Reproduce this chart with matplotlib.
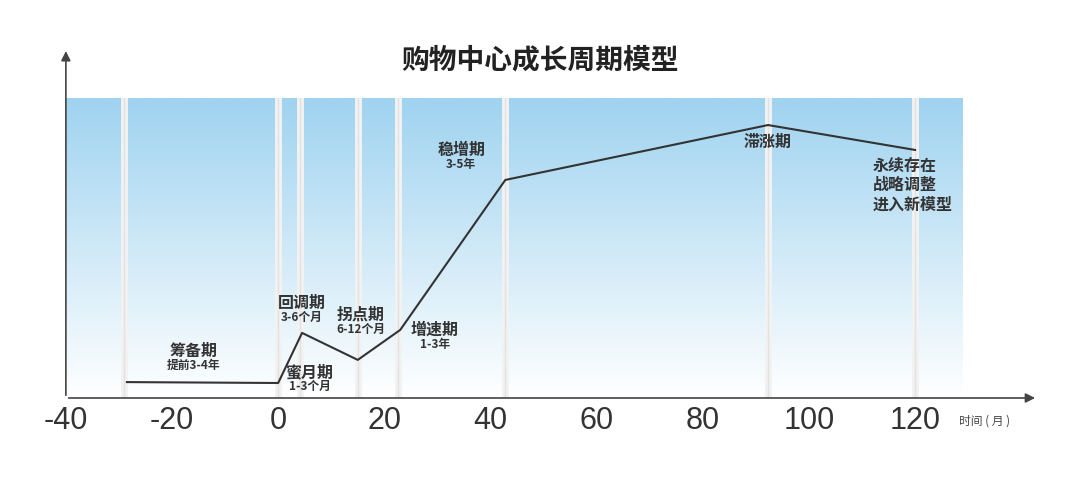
import numpy as np
import matplotlib.pyplot as plt
from matplotlib.colors import LinearSegmentedColormap

plt.rcParams['font.family'] = ['Noto Sans CJK SC', 'DejaVu Sans']
plt.rcParams['axes.unicode_minus'] = False

# data
months = [-28.5, 0, 4.5, 15, 23, 42.8, 92.3, 120]
level = [5.3, 5, 21.7, 12.7, 22.7, 72.7, 91, 82.7]
divider_x = [-29, 0, 4.1, 15, 22.6, 42.8, 92.3, 120]
xticks = [-40, -20, 0, 20, 40, 60, 80, 100, 120]
labels = [
    (-16, 13, "筹备期", "提前3-4年"),
    (4.5, 29, "回调期", "3-6个月"),
    (15.5, 25, "拐点期", "6-12个月"),
    (29.5, 20, "增速期", "1-3年"),
    (6, 6, "蜜月期", "1-3个月"),
    (34.5, 80, "稳增期", "3-5年"),
]

fig = plt.figure(figsize=(10.8, 4.83), dpi=100)
ax = fig.add_axes([0.061, 0.176, 0.83, 0.621])
xmin, xmax = -40, 128.9
ax.set_xlim(xmin, xmax)
ax.set_ylim(0, 100)

cmap = LinearSegmentedColormap.from_list("bg", ["#ffffff", "#9fd3f0"])
grad = np.linspace(0, 1, 256).reshape(-1, 1)
ax.imshow(grad, cmap=cmap, aspect='auto', extent=[xmin, xmax, 0, 100], origin='lower', zorder=0)

for dx in divider_x:
    ax.axvline(dx, color='#f2f2f2', lw=5, zorder=1)
    ax.axvline(dx, color='#d8d8d8', lw=1, zorder=1, alpha=0.6)

ax.plot(months, level, color='#333333', lw=1.5, zorder=3)

for x, y, name, dur in labels:
    ax.text(x, y, name, ha='center', va='bottom', fontsize=11.5, fontweight='bold', color='#333333', zorder=4)
    ax.text(x, y, dur, ha='center', va='top', fontsize=8.5, fontweight='bold', color='#333333', zorder=4)
ax.text(92.3, 88, "滞涨期", ha='center', va='top', fontsize=11.5, fontweight='bold', color='#333333')
ax.text(112, 80, "永续存在\n战略调整\n进入新模型", ha='left', va='top', fontsize=11.5,
        fontweight='bold', color='#333333', linespacing=1.25)

for s in ax.spines.values():
    s.set_visible(False)
ax.set_yticks([])
ax.set_xticks(xticks)
ax.tick_params(axis='x', length=0, labelsize=22, colors='#333333', pad=6)
for t in ax.get_xticklabels():
    t.set_family('Liberation Sans')

# axis arrows
ax.annotate('', xy=(0.961, 0.176), xytext=(0.061, 0.176), xycoords='figure fraction',
            arrowprops=dict(arrowstyle='-|>', color='#444444', lw=1.2, mutation_scale=14))
ax.annotate('', xy=(0.061, 0.90), xytext=(0.061, 0.176), xycoords='figure fraction',
            arrowprops=dict(arrowstyle='-|>', color='#444444', lw=1.2, mutation_scale=14))
fig.text(0.888, 0.128, "时间 ( 月 )", fontsize=8.5, color='#444444', va='center')
fig.text(0.5, 0.875, "购物中心成长周期模型", ha='center', va='center', fontsize=20, fontweight='bold', color='#222222')

fig.savefig("out.png", dpi=100)
